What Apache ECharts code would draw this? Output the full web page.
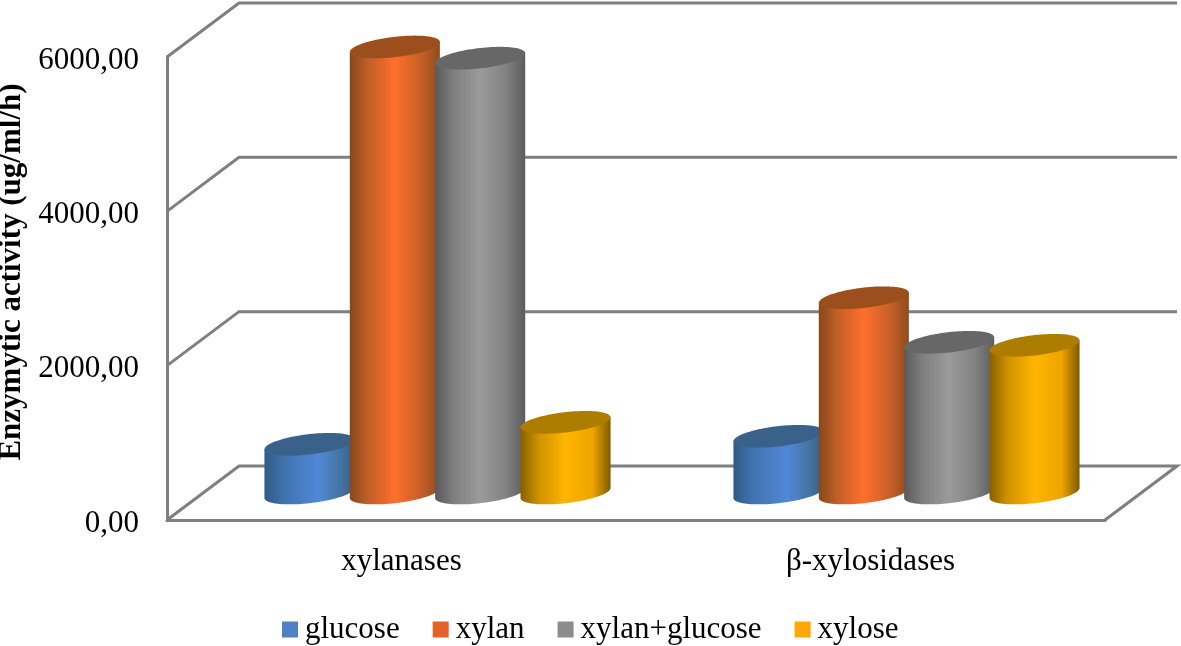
<!DOCTYPE html>
<html><head><meta charset="utf-8">
<style>html,body{margin:0;padding:0;background:#fff}#c{width:1181px;height:646px}</style>
<script src="https://cdn.jsdelivr.net/npm/echarts@6/dist/echarts.min.js"></script>
</head><body><div id="c"></div>
<script>
var categories = ['xylanases', 'β-xylosidases'];
var tickValues = [0, 2000, 4000, 6000];
var glucose = [631, 735];
var xylan = [5780, 2530];
var xylanGlucose = [5635, 1953];
var xylose = [916, 1914];
var seriesNames = ['glucose', 'xylan', 'xylan+glucose', 'xylose'];
var seriesValues = [glucose, xylan, xylanGlucose, xylose];

var legendColors = ['#4f81c4', '#e2622a', '#8c8c8c', '#ffa800'];
var sideStops = [
  [[0, '#2f5a85'], [0.22, '#4173ae'], [0.6, '#5089d8'], [0.85, '#44739f'], [1, '#355f88']],
  [[0, '#87481a'], [0.2, '#c05f28'], [0.5, '#ff6f2c'], [0.8, '#c45f28'], [1, '#8f4c1c']],
  [[0, '#5a5a5a'], [0.2, '#7e7e7e'], [0.5, '#9b9b9b'], [0.8, '#808080'], [1, '#5c5c5c']],
  [[0, '#856100'], [0.2, '#cf9200'], [0.5, '#ffb500'], [0.8, '#f0a400'], [1, '#7d5b00']]
];
var topColors = ['#3a618a', '#9c4f1c', '#676767', '#ad7d00'];
var depthX = 72, depthY = 54, lineColor = '#7f7f7f', fontName = '"Liberation Serif","Times New Roman",serif';

function ellipsePoint(cx, cy, a, b, lift, t) {
  return [cx + a * Math.cos(t), cy + b * Math.sin(t) - lift * Math.cos(t)];
}
function cylinder(sIdx) {
  return function (params, api) {
    var band = api.size([1, 0])[0];
    var a = band * 0.096, b = 10.2, lift = 5;
    var base = api.coord([api.value(0), 0]);
    var top = api.coord([api.value(0), api.value(1)]);
    var cx = base[0] + (sIdx - 1.5) * band * 0.182 + depthX / 2;
    var by = base[1] - depthY / 2;
    var ty = top[1] - depthY / 2;
    var body = [], lid = [], n = 48, i;
    body.push(ellipsePoint(cx, ty, a, b, lift, Math.PI));
    body.push(ellipsePoint(cx, ty, a, b, lift, 0));
    for (i = 0; i <= n; i++) body.push(ellipsePoint(cx, by, a, b, lift, Math.PI * i / n));
    for (i = 0; i < 2 * n; i++) lid.push(ellipsePoint(cx, ty, a, b, lift, Math.PI * i / n));
    return {
      type: 'group',
      children: [
        { type: 'polygon', shape: { points: body }, style: { fill: {
            type: 'linear', x: 0, y: 0, x2: 1, y2: 0,
            colorStops: sideStops[sIdx].map(function (s) { return { offset: s[0], color: s[1] }; })
          } } },
        { type: 'polygon', shape: { points: lid }, style: { fill: topColors[sIdx] } }
      ]
    };
  };
}
function wall(params, api) {
  var cs = params.coordSys;
  var y = api.coord([0, api.value(0)])[1];
  var pts = [[cs.x, y], [cs.x + depthX, y - depthY], [cs.x + cs.width + depthX, y - depthY]];
  if (api.value(0) === 0) pts.push([cs.x + cs.width, y]);
  return { type: 'polyline', shape: { points: pts }, style: { stroke: lineColor, lineWidth: 3, fill: null } };
}

var series = [{
  type: 'custom', name: 'walls', silent: true, z: 1, renderItem: wall,
  data: tickValues.map(function (v) { return [v]; }), encode: { y: 0 }
}];
seriesNames.forEach(function (name, s) {
  series.push({
    type: 'custom', name: name, z: 2 + s, renderItem: cylinder(s),
    itemStyle: { color: legendColors[s] },
    encode: { x: 0, y: 1 },
    data: seriesValues[s].map(function (v, i) { return [i, v]; })
  });
});

var chart = echarts.init(document.getElementById('c'), null, { renderer: 'canvas' });
chart.setOption({
  animation: false,
  backgroundColor: '#fff',
  grid: { left: 167, right: 76, top: 57, bottom: 126, containLabel: false, outerBoundsMode: 'none' },
  legend: {
    data: seriesNames, left: 282, top: 614, padding: 0, icon: 'rect', itemWidth: 16, itemHeight: 16, itemGap: 33,
    textStyle: { fontFamily: fontName, fontSize: 31, color: '#000', padding: [0, 0, 0, 2] }
  },
  xAxis: {
    type: 'category', data: categories, boundaryGap: true,
    axisTick: { show: false },
    axisLine: { lineStyle: { color: lineColor, width: 3 } },
    axisLabel: { fontFamily: fontName, fontSize: 31, color: '#000', margin: 26 }
  },
  yAxis: {
    type: 'value', min: 0, max: 6000, interval: 2000,
    name: 'Enzymytic activity (ug/ml/h)', nameLocation: 'middle', nameGap: 134, nameRotate: 90,
    nameTextStyle: { fontFamily: fontName, fontSize: 31, fontWeight: 'bold', color: '#000', padding: [0, 0, 0, 33] },
    splitLine: { show: false }, axisTick: { show: false },
    axisLine: { show: true, lineStyle: { color: lineColor, width: 3 } },
    axisLabel: { fontFamily: fontName, fontSize: 31, color: '#000', margin: 28, lineHeight: 7, verticalAlign: 'top',
      formatter: function (v) { return v.toFixed(2).replace('.', ','); } }
  },
  series: series
});
</script></body></html>
